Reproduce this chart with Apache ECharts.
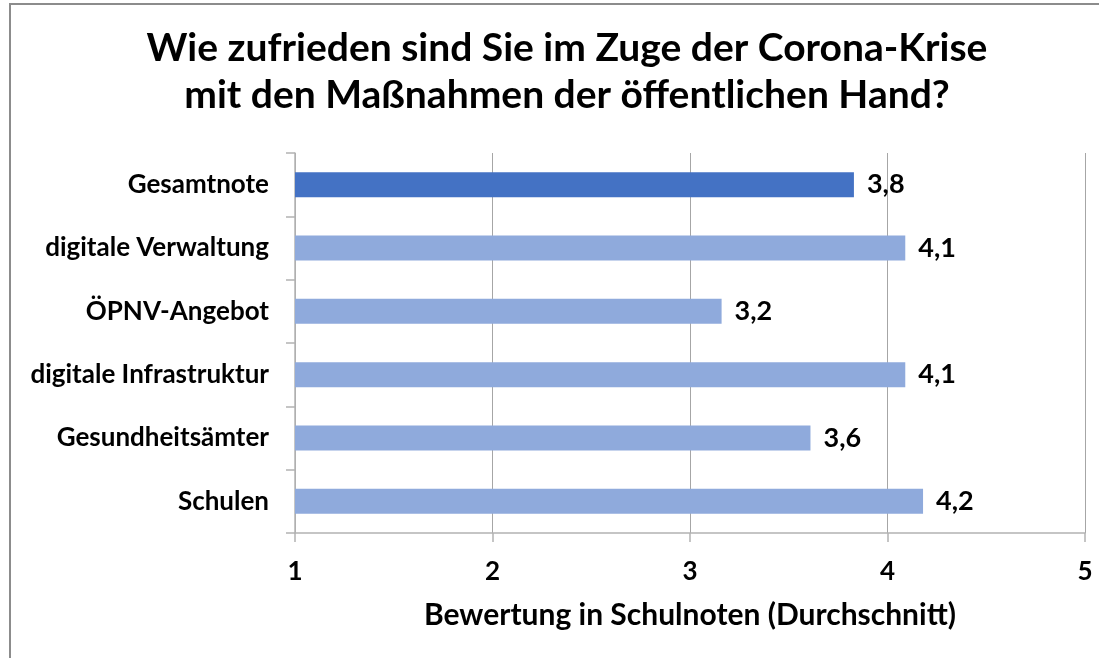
<!DOCTYPE html>
<html>
<head>
<meta charset="utf-8">
<script src="https://cdn.jsdelivr.net/npm/echarts@6/dist/echarts.min.js"></script>
<style>
  html, body { margin: 0; padding: 0; background: #fff; }
  #frame {
    position: absolute; left: 9px; top: 3px; width: 1090px; height: 655px;
    border-left: 2px solid #8c8c8c; border-top: 2px solid #8c8c8c;
    box-sizing: border-box;
  }
  #chart { position: absolute; left: 0; top: 0; width: 1099px; height: 658px; }
</style>
</head>
<body>
<div id="frame"></div>
<div id="chart"></div>
<script>
// ---- Daten (von oben nach unten) ----
const categories = [
  'Gesamtnote',
  'digitale Verwaltung',
  'ÖPNV-Angebot',
  'digitale Infrastruktur',
  'Gesundheitsämter',
  'Schulen',
]
const values = [3.83, 4.09, 3.16, 4.09, 3.61, 4.18]
const highlight = 'Gesamtnote'
const xTicks = [1, 2, 3, 4, 5]

const FONT = 'Lato'
const DARK = '#4472C4'
const LIGHT = '#8FAADC'
const AXIS_GRAY = '#b3b3b3'

const chart = echarts.init(document.getElementById('chart'))

chart.setOption({
  animation: false,
  backgroundColor: 'transparent',
  textStyle: { fontFamily: FONT },
  title: {
    text: 'Wie zufrieden sind Sie im Zuge der Corona-Krise\nmit den Maßnahmen der öffentlichen Hand?',
    left: 562,
    top: 20,
    textAlign: 'center',
    textStyle: {
      fontFamily: FONT,
      fontWeight: 'bold',
      fontSize: 39,
      lineHeight: 47,
      color: '#000',
    },
  },
  grid: { left: 295, right: 14, top: 153, bottom: 125 },
  xAxis: {
    type: 'value',
    min: xTicks[0],
    max: xTicks[xTicks.length - 1],
    interval: 1,
    name: 'Bewertung in Schulnoten (Durchschnitt)',
    nameLocation: 'middle',
    nameGap: 67,
    nameTextStyle: { fontFamily: FONT, fontWeight: 'bold', fontSize: 30, color: '#000' },
    axisLine: { show: true, lineStyle: { color: AXIS_GRAY, width: 1.5 } },
    axisTick: { show: true, length: 9, lineStyle: { color: AXIS_GRAY, width: 1.5 } },
    axisLabel: { margin: 26, fontFamily: FONT, fontWeight: 'bold', fontSize: 26, color: '#000' },
    splitLine: { show: true, lineStyle: { color: '#a6a6a6', width: 1 } },
  },
  yAxis: {
    type: 'category',
    inverse: true,
    data: categories,
    axisLine: { show: true, lineStyle: { color: AXIS_GRAY, width: 1.5 } },
    axisTick: { show: true, length: 9, lineStyle: { color: AXIS_GRAY, width: 1.5 } },
    axisLabel: { margin: 26, fontFamily: FONT, fontWeight: 'bold', fontSize: 26, color: '#000' },
  },
  series: [
    {
      type: 'bar',
      data: values.map((v, i) => ({
        value: v,
        itemStyle: { color: categories[i] === highlight ? DARK : LIGHT },
      })),
      barWidth: 25,
      clip: true,
      label: {
        show: true,
        position: 'right',
        distance: 13,
        fontFamily: FONT,
        fontWeight: 'bold',
        fontSize: 27,
        color: '#000',
        formatter: (p) => p.value.toFixed(1).replace('.', ','),
      },
    },
  ],
})
</script>
</body>
</html>
